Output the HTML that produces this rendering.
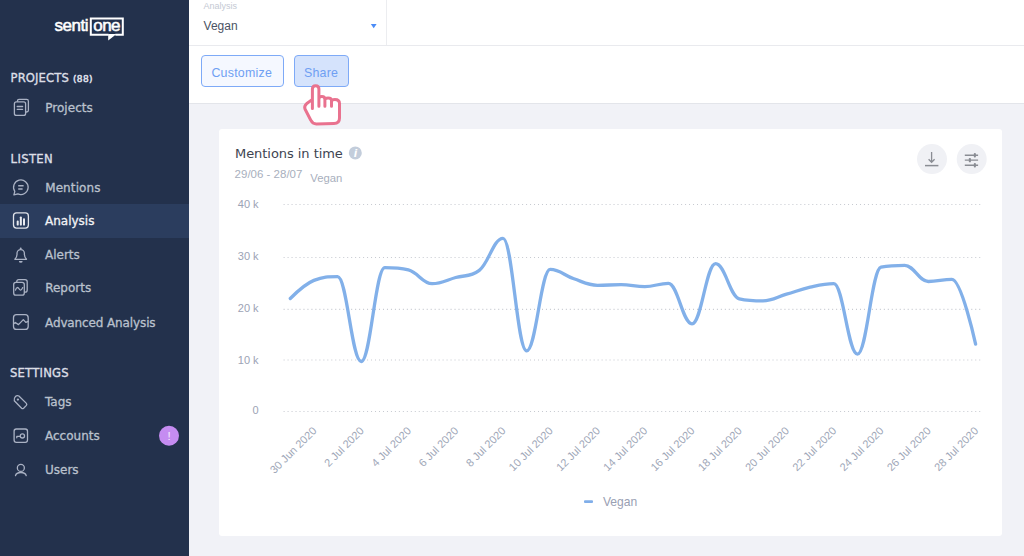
<!DOCTYPE html>
<html lang="en">
<head>
<meta charset="utf-8">
<title>SentiOne - Analysis</title>
<style>
*{margin:0;padding:0;box-sizing:border-box}
html,body{width:1024px;height:556px;overflow:hidden}
body{position:relative;background:#f1f2f7;font-family:"Liberation Sans",Arial,sans-serif}
.abs{position:absolute}
#sidebar{position:absolute;left:0;top:0;width:189px;height:556px;background:#23314c}
#sidebar .active{position:absolute;left:0;top:204px;width:189px;height:34px;background:#2b3d5e}
#sidebar svg{position:absolute;left:0;top:0}
#header{position:absolute;left:189px;top:0;width:835px;height:46px;background:#fff;border-bottom:1px solid #e9eaee}
#header .dd{position:absolute;left:0;top:0;width:198px;height:45px;border-right:1px solid #ecedf0}
#toolbar{position:absolute;left:189px;top:46px;width:835px;height:58px;background:#fff;border-bottom:1px solid #e3e5ea}
.btn{position:absolute;top:55px;height:32px;border:1.5px solid #7eaaf7;border-radius:4px;font-size:12.4px;color:#6f9ff3;line-height:34.6px;padding-left:9.4px;letter-spacing:.25px}
#card{position:absolute;left:219px;top:129px;width:783px;height:407px;background:#fff;border-radius:3px}
#chart{position:absolute;left:0;top:0}
</style>
</head>
<body>
<div id="sidebar">
  <div class="active"></div>
  <svg width="189" height="556" viewBox="0 0 189 556">
    <!-- logo -->
    <g font-family="Liberation Sans, Arial, sans-serif" fill="#fff">
      <text x="54.5" y="31.2" font-size="17" letter-spacing="-0.5" stroke="#fff" stroke-width="0.55">senti</text>
      <text x="93.2" y="31.2" font-size="17" letter-spacing="-0.5" stroke="#fff" stroke-width="0.55">one</text>
    </g>
    <path d="M108.6,34.8 H90.8 V18.5 H122.8 V34.8 H115.3" fill="none" stroke="#fff" stroke-width="2"/>
    <path d="M108.2,34 L108.2,40.6 L116.6,34 Z" fill="#fff"/>
    <!-- section headers -->
    <g font-family="DejaVu Sans, sans-serif" fill="#dcdfe6" stroke="#dcdfe6" stroke-width="0.35" font-size="11">
      <text x="10.6" y="81.7" font-size="11.6" letter-spacing="0.1">PROJECTS</text>
      <text x="73" y="82.2" font-size="9" letter-spacing="0.35" stroke-width="0.55">(88)</text>
      <text x="10.6" y="162.6" font-size="11.6" letter-spacing="0.35">LISTEN</text>
      <text x="10" y="376.6" font-size="11.6" letter-spacing="0.22">SETTINGS</text>
    </g>
    <!-- nav items -->
    <g font-family="DejaVu Sans, sans-serif" fill="#bac1cd" stroke="#bac1cd" stroke-width="0.3" font-size="12">
      <text x="45.2" y="111.5" letter-spacing="0.05">Projects</text>
      <text x="45.2" y="191.9" letter-spacing="0.1">Mentions</text>
      <text x="45" y="225" fill="#f2f3f6" stroke="#f2f3f6">Analysis</text>
      <text x="45" y="259.4">Alerts</text>
      <text x="45.2" y="292.3">Reports</text>
      <text x="45" y="326.6" letter-spacing="-0.12">Advanced Analysis</text>
      <text x="45" y="406">Tags</text>
      <text x="45" y="440.3">Accounts</text>
      <text x="45" y="473.8">Users</text>
    </g>
    <!-- icons -->
    <g fill="none" stroke="#aab2c4" stroke-width="1.3" stroke-linecap="round" stroke-linejoin="round">
      <!-- projects -->
      <path d="M17.5,101.2 V100.8 Q17.5,99.4 19,99.4 H26.6 Q28.4,99.4 28.4,101.2 V110.2 Q28.4,112 26.6,112 H26"/>
      <rect x="14.4" y="101.8" width="11.2" height="13.6" rx="2"/>
      <path d="M17.2,106.5 H22.6 M17.2,109.3 H22.6"/>
      <!-- mentions -->
      <path d="M13.9,194.9 L14.8,191.3 A7.3,7.3 0 1 1 17.9,193.9 Z"/>
      <path d="M18.2,185.7 H23.6 M18.2,189 H22.6" stroke-width="1.6" stroke-linecap="butt"/>
      <!-- analysis -->
      <rect x="13.5" y="212.9" width="14.9" height="15.2" rx="3" stroke="#dfe2e9"/>
      <!-- alerts -->
      <path d="M14.9,259.3 H26.5 Q24.5,257.3 24.4,254.4 V253.3 A3.7,3.7 0 0 0 17,253.3 V254.4 Q16.9,257.3 14.9,259.3 Z"/>
      <circle cx="20.7" cy="248.4" r="1" fill="#aab2c4" stroke="none"/>
      <path d="M18.9,261 A1.85,1.85 0 0 0 22.6,261 Z" fill="#aab2c4" stroke="none"/>
      <!-- reports -->
      <path d="M16.8,282 V281.6 Q16.8,279.6 18.8,279.6 H25 Q27.2,279.6 27.2,281.8 V290 Q27.2,292.2 25,292.2 H24.6"/>
      <rect x="13.7" y="282.4" width="10.6" height="12.8" rx="2.2"/>
      <path d="M15.5,290.1 C16.5,286.6 18,287.1 19.2,289 C20.4,290.9 21.6,290.3 22.7,287.6"/>
      <!-- advanced analysis -->
      <rect x="13.5" y="314.7" width="14.7" height="14.7" rx="3"/>
      <path d="M13.6,323.7 L15.3,322.5 L18.5,324.6 L23.3,319.6 L25.8,322.4 L28.2,321.3"/>
      <!-- tags -->
      <path d="M15.4,396.6 Q17,395.2 18.9,396 L26.4,403.4 Q27.2,404.4 26.4,405.4 L23.6,408.2 Q22.6,409 21.6,408.2 L14.3,400.8 Q13.6,398.4 15.4,396.6 Z"/>
      <circle cx="17.9" cy="399.6" r="0.5" fill="#aab2c4"/>
      <!-- accounts -->
      <rect x="14.1" y="429" width="13.4" height="13.3" rx="2.2"/>
      <circle cx="22.4" cy="435.9" r="2.1"/>
      <path d="M16.8,437.8 V436.4 H20.3"/>
      <!-- users -->
      <circle cx="20.85" cy="467.9" r="3.5"/>
      <path d="M15.5,475.7 Q16.2,472.5 20.85,472.5 Q25.5,472.5 26.2,475.7"/>
    </g>
    <!-- analysis bars -->
    <g fill="#e9ebf0">
      <rect x="16.7" y="220.6" width="2" height="5" rx="0.9"/>
      <rect x="19.85" y="216.4" width="2" height="9.2" rx="0.9"/>
      <rect x="23" y="218.3" width="2" height="7.3" rx="0.9"/>
    </g>
    <!-- badge -->
    <circle cx="169" cy="435.8" r="10" fill="#c58cf1"/>
    <text x="169" y="440.3" font-family="Liberation Sans, Arial, sans-serif" font-size="11.5" fill="#f6ecfd" text-anchor="middle">!</text>
  </svg>
</div>

<div id="header">
  <div class="dd">
    <div class="abs" style="left:14.6px;top:0.8px;font-size:9px;color:#c4c9d3">Analysis</div>
    <div class="abs" style="left:14.6px;top:19.4px;font-size:12px;color:#4b5263">Vegan</div>
    <svg class="abs" style="left:181px;top:23px" width="8" height="6" viewBox="0 0 8 6"><path d="M0.8,1 H6.6 L3.7,5.2 Z" fill="#4b8cf7"/></svg>
  </div>
</div>
<div id="toolbar"></div>
<div class="btn" style="left:201px;width:83px;background:#f5f8ff">Customize</div>
<div class="btn" style="left:293.5px;width:55px;background:#d5e3fc">Share</div>

<div id="card"></div>

<svg id="chart" width="1024" height="556" viewBox="0 0 1024 556">
  <g font-family="Liberation Sans, Arial, sans-serif">
    <text x="235" y="157.6" font-size="13" fill="#3e4451" font-family="DejaVu Sans, sans-serif" letter-spacing="-0.05">Mentions in time</text>
    <circle cx="355.3" cy="152.9" r="6.5" fill="#c3cddb"/>
    <text x="355.5" y="156.8" font-size="10" font-weight="bold" font-style="italic" font-family="DejaVu Sans, sans-serif" fill="#fff" text-anchor="middle">i</text>
    <text x="234.6" y="177.6" font-size="11.5" fill="#a8afbd">29/06 - 28/07</text>
    <text x="310.3" y="182" font-size="11.3" fill="#a8afbd">Vegan</text>
  </g>
  <!-- round buttons -->
  <circle cx="932" cy="159.1" r="15" fill="#f0f1f5"/>
  <circle cx="971.7" cy="159.1" r="15" fill="#f0f1f5"/>
  <g stroke="#8a8d94" stroke-width="1.3" fill="none">
    <path d="M931.6,152 V162.2 M928.6,159.2 L931.6,162.3 L934.6,159.2"/>
    <path d="M925,165.6 H938.4" stroke-width="1.5"/>
    <path d="M964.8,155.2 H978.1 M964.8,160.1 H978.1 M964.8,165.3 H978.1" stroke-width="1.4"/>
  </g>
  <g fill="#8a8d94">
    <rect x="973.8" y="153" width="2.1" height="4.4" rx="0.9"/>
    <rect x="968.8" y="157.9" width="2.1" height="4.4" rx="0.9"/>
    <rect x="973.8" y="163.1" width="2.1" height="4.4" rx="0.9"/>
  </g>
  <!-- grid -->
  <g stroke="#c6c9d0" stroke-width="1.2" stroke-dasharray="1 2.975"><line x1="283.6" y1="204.5" x2="981" y2="204.5"/><line x1="283.6" y1="257.5" x2="981" y2="257.5"/><line x1="283.6" y1="309.3" x2="981" y2="309.3"/><line x1="283.6" y1="360.0" x2="981" y2="360.0"/><line x1="283.6" y1="411.5" x2="981" y2="411.5"/></g>
  <g font-family="Liberation Sans, Arial, sans-serif" font-size="11" fill="#9ca3b5" text-anchor="end"><text x="258.6" y="208.1">40 k</text><text x="258.6" y="260.0">30 k</text><text x="258.6" y="312.0">20 k</text><text x="258.6" y="363.7">10 k</text><text x="258.6" y="414.4">0</text></g>
  <path d="M290.3,298.5C290.3,298.5,304.5,284.2,313.9,280.4C323.4,276.6,328.1,276.6,337.6,276.6C347.0,276.6,351.7,361.5,361.2,361.5C370.6,361.5,375.4,267.6,384.8,267.6C394.3,267.6,399.0,267.6,408.4,269.9C417.9,272.2,422.6,283.7,432.1,283.7C441.5,283.7,446.3,280.2,455.7,277.5C465.2,274.8,469.9,277.5,479.3,270.4C488.8,263.3,493.5,238.3,503.0,238.3C512.4,238.3,517.1,350.8,526.6,350.8C536.1,350.8,540.8,269.4,550.2,269.4C559.7,269.4,564.4,275.6,573.9,278.8C583.3,282.0,588.0,285.3,597.5,285.3C606.9,285.3,611.7,284.7,621.1,284.7C630.6,284.7,635.3,286.6,644.8,286.6C654.2,286.6,658.9,283.4,668.4,283.4C677.8,283.4,682.6,323.9,692.0,323.9C701.5,323.9,706.2,263.7,715.6,263.7C725.1,263.7,729.8,296.7,739.3,298.8C748.7,300.9,753.4,300.9,762.9,300.9C772.4,300.9,777.1,296.9,786.5,294.2C796.0,291.5,800.7,289.3,810.2,287.2C819.6,285.1,824.3,283.7,833.8,283.7C843.2,283.7,848.0,354.1,857.4,354.1C866.9,354.1,871.6,269.1,881.0,267.2C890.5,265.3,895.2,265.3,904.7,265.3C914.1,265.3,918.9,281.5,928.3,281.5C937.8,281.5,942.5,279.4,951.9,279.4C961.4,279.4,975.6,344.1,975.6,344.1" fill="none" stroke="#82b0e9" stroke-width="3.3" stroke-linecap="round" stroke-linejoin="round"/>
  <g font-family="Liberation Sans, Arial, sans-serif" font-size="11" fill="#a0a7b8" text-anchor="end"><text x="317.3" y="431.5" transform="rotate(-45 317.3 431.5)">30 Jun 2020</text><text x="364.6" y="431.5" transform="rotate(-45 364.6 431.5)">2 Jul 2020</text><text x="411.8" y="431.5" transform="rotate(-45 411.8 431.5)">4 Jul 2020</text><text x="459.1" y="431.5" transform="rotate(-45 459.1 431.5)">6 Jul 2020</text><text x="506.4" y="431.5" transform="rotate(-45 506.4 431.5)">8 Jul 2020</text><text x="553.6" y="431.5" transform="rotate(-45 553.6 431.5)">10 Jul 2020</text><text x="600.9" y="431.5" transform="rotate(-45 600.9 431.5)">12 Jul 2020</text><text x="648.1" y="431.5" transform="rotate(-45 648.1 431.5)">14 Jul 2020</text><text x="695.4" y="431.5" transform="rotate(-45 695.4 431.5)">16 Jul 2020</text><text x="742.7" y="431.5" transform="rotate(-45 742.7 431.5)">18 Jul 2020</text><text x="789.9" y="431.5" transform="rotate(-45 789.9 431.5)">20 Jul 2020</text><text x="837.2" y="431.5" transform="rotate(-45 837.2 431.5)">22 Jul 2020</text><text x="884.4" y="431.5" transform="rotate(-45 884.4 431.5)">24 Jul 2020</text><text x="931.7" y="431.5" transform="rotate(-45 931.7 431.5)">26 Jul 2020</text><text x="979.0" y="431.5" transform="rotate(-45 979.0 431.5)">28 Jul 2020</text></g>
  <!-- legend -->
  <rect x="584" y="500.2" width="9" height="2.9" rx="1" fill="#80aee9"/>
  <text x="602.9" y="505.8" font-family="Liberation Sans, Arial, sans-serif" font-size="12.1" fill="#99a0b3">Vegan</text>
  <!-- hand cursor -->
  <path d="M312.4,108.4 V89 Q312.4,85.8 315.65,85.8 Q318.9,85.8 318.9,89 V106.2 M318.9,99 Q318.9,96.6 321.8,96.6 Q324.9,96.6 324.9,99.4 V106.2 M324.9,100 Q324.9,97.9 328.1,97.9 Q331.5,97.9 331.5,100.6 V106.2 M331.5,101.6 Q331.5,99.4 334.9,99.4 Q339.5,99.4 339.5,103.4 V118 Q339.5,123.5 334,123.5 L316.4,124 Q312.6,124 310.8,120.2 L305,109 Q303.9,106 306.5,103.8 L312.4,99.4" fill="#fff" stroke="#e9728f" stroke-width="3" stroke-linecap="round" stroke-linejoin="round"/>
</svg>
</body>
</html>
